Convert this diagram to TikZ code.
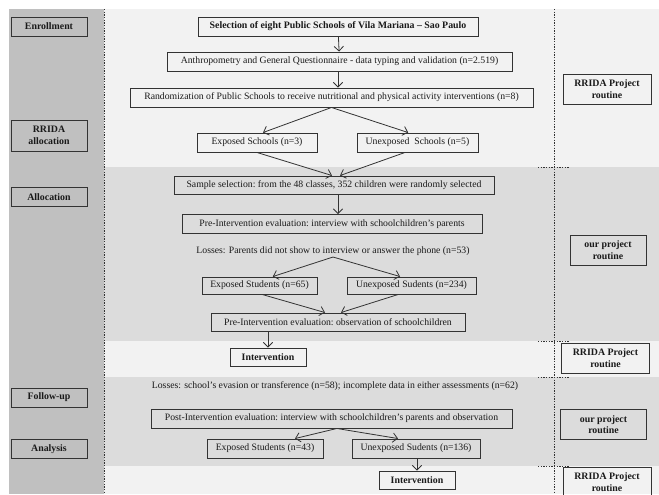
\documentclass[tikz,border=0pt]{standalone}
\usepackage{fontspec}
\setmainfont{Liberation Serif}
\usetikzlibrary{arrows.meta}
\definecolor{panelGray}{HTML}{C0C0C0}
\definecolor{paleGray}{HTML}{F2F2F2}
\definecolor{bandGray}{HTML}{DCDCDC}
\definecolor{boxLine}{HTML}{333333}
\definecolor{inkCol}{HTML}{1A1A1A}
\tikzset{
  flowbox/.style={draw=boxLine, line width=0.7pt, text=inkCol, inner ysep=1pt, inner xsep=3pt,
    minimum height=14.25pt, font=\fontsize{7.3}{8.5}\selectfont},
  boldbox/.style={flowbox, font=\bfseries\fontsize{7.4}{8.6}\selectfont},
  phasebox/.style={boldbox, align=center, minimum width=57pt, fill=panelGray},
  routinebox/.style={boldbox, align=center, minimum width=66pt, minimum height=22.5pt},
  flowarrow/.style={draw=boxLine, line width=0.6pt, -{Straight Barb[length=3.5pt,width=7pt]}},
  sepline/.style={draw=boxLine, line width=0.6pt, dash pattern=on 1pt off 1pt},
}

\begin{document}
\begin{tikzpicture}[x=0.75pt,y=0.75pt,yscale=-1,xscale=1]
\useasboundingbox (0,0) rectangle (659,494);

%Shape: Rectangle [background]
\fill[white] (0,0) rectangle (659,494);
\fill[paleGray] (104,9) rectangle (659,494);
\fill[panelGray] (9,9) rectangle (104,494);
%Shape: Rectangle [bands of our project]
\fill[bandGray] (104,167) rectangle (659,341);
\fill[bandGray] (104,377) rectangle (659,466);

%Straight Lines [separators]
\draw[sepline] (104,9) -- (104,494);
\draw[sepline] (554,9) -- (554,494);
\draw[sepline] (538,167) -- (570,167);
\draw[sepline] (538,341) -- (570,341);
\draw[sepline] (538,377) -- (570,377);
\draw[sepline] (538,466) -- (570,466);

% Phase Nodes
\node[phasebox] (enroll) at (49,26.5) {Enrollment};
\node[phasebox, minimum height=23.25pt] (rridaAlloc) at (49,135.5) {RRIDA\\allocation};
\node[phasebox] (alloc) at (49,197) {Allocation};
\node[phasebox] (follow) at (49,397.5) {Follow-up};
\node[phasebox] (analysis) at (49,449) {Analysis};

% Routine Nodes
\node[routinebox] (rrida1) at (607,89) {RRIDA Project\\routine};
\node[routinebox, minimum width=57pt] (ours1) at (608,250) {our project\\routine};
\node[routinebox] (rrida2) at (605.5,358) {RRIDA Project\\routine};
\node[routinebox, minimum width=64pt] (ours2) at (603.5,424.5) {our project\\routine};
\node[routinebox] (rrida3) at (607,482) {RRIDA Project\\routine};

% Flow Nodes
\node[boldbox, minimum width=210pt] (sel) at (338,26.5) {Selection of eight Public Schools of Vila Mariana – Sao Paulo};
\node[flowbox, minimum width=258.75pt] (anthro) at (339.5,61.5) {Anthropometry and General Questionnaire - data typing and validation (n=2.519)};
\node[flowbox, minimum width=302.25pt] (rand) at (331.5,97.5) {Randomization of Public Schools to receive nutritional and physical activity interventions (n=8)};
\node[flowbox, minimum width=90pt] (expSch) at (257,142.5) {Exposed Schools (n=3)};
\node[flowbox, minimum width=90.75pt] (unexpSch) at (417.5,142.5) {Unexposed\ \ Schools (n=5)};
\node[flowbox, minimum width=240pt, minimum height=13.5pt] (sample) at (334,185) {Sample selection:\ from the 48 classes, 352 children were randomly selected};
\node[flowbox, minimum width=225pt] (preInt) at (332,224) {Pre-Intervention evaluation:\ interview with schoolchildren’s parents};
\node[text=inkCol, font=\fontsize{7.3}{8.5}\selectfont, inner sep=1pt] (loss1) at (333,251) {Losses: Parents did not show to interview or answer the phone (n=53)};
\node[flowbox, minimum width=86.25pt, minimum height=12.75pt] (expStu1) at (259.5,285.5) {Exposed Students (n=65)};
\node[flowbox, minimum width=96.75pt, minimum height=12.75pt] (unexpStu1) at (411.5,285.5) {Unexposed\ Sudents (n=234)};
\node[flowbox, minimum width=190.5pt, minimum height=13.5pt] (preObs) at (338,322) {Pre-Intervention evaluation:\ observation of schoolchildren};
\node[boldbox, minimum width=57pt, minimum height=13.5pt] (interv1) at (268,357) {Intervention};
\node[text=inkCol, font=\fontsize{7.3}{8.5}\selectfont, inner sep=1pt] (loss2) at (335,386) {Losses: school’s evasion or transference (n=58); incomplete data in either assessments (n=62)};
\node[flowbox, minimum width=270.75pt] (postInt) at (331.5,418.5) {Post-Intervention evaluation:\ interview with schoolchildren’s parents and observation};
\node[flowbox, minimum width=87pt] (expStu2) at (265,448.5) {Exposed Students (n=43)};
\node[flowbox, minimum width=96pt] (unexpStu2) at (416,448.5) {Unexposed\ Sudents (n=136)};
\node[boldbox, minimum width=57pt, minimum height=13.5pt] (interv2) at (417,480) {Intervention};

% Connectors
\draw[flowarrow] (sel) -- (anthro);
\draw[flowarrow] (anthro.south -| sel.south) -- (rand.north -| sel.south);
\draw[flowarrow] (rand.south) -- ([xshift=4.5pt]expSch.north);
\draw[flowarrow] (rand.south) -- ([xshift=-7pt]unexpSch.north);
\draw[flowarrow] (expSch.south) -- ([xshift=-1.5pt]sample.north);
\draw[flowarrow] ([xshift=-9.4pt]unexpSch.south) -- ([xshift=4.5pt]sample.north);
\draw[flowarrow] ([xshift=3pt]sample.south) -- ([xshift=3pt]preInt.north -| sample.south);
\draw[flowarrow] (loss1.south) -- ([xshift=10pt]expStu1.north);
\draw[flowarrow] (loss1.south) -- ([xshift=-8.6pt]unexpStu1.north);
\draw[flowarrow] ([xshift=2pt]expStu1.south) -- ([xshift=-9.75pt]preObs.north);
\draw[flowarrow] ([xshift=-10pt]unexpStu1.south) -- ([xshift=2.25pt]preObs.north);
\draw[flowarrow] (preObs.south -| interv1.north) -- (interv1.north);
\draw[flowarrow] ([xshift=4pt]postInt.south) -- ([xshift=22.5pt]expStu2.north);
\draw[flowarrow] ([xshift=4pt]postInt.south) -- ([xshift=-13.5pt]unexpStu2.north);
\draw[flowarrow] (unexpStu2.south -| interv2.north) -- (interv2.north);
\end{tikzpicture}
\end{document}
